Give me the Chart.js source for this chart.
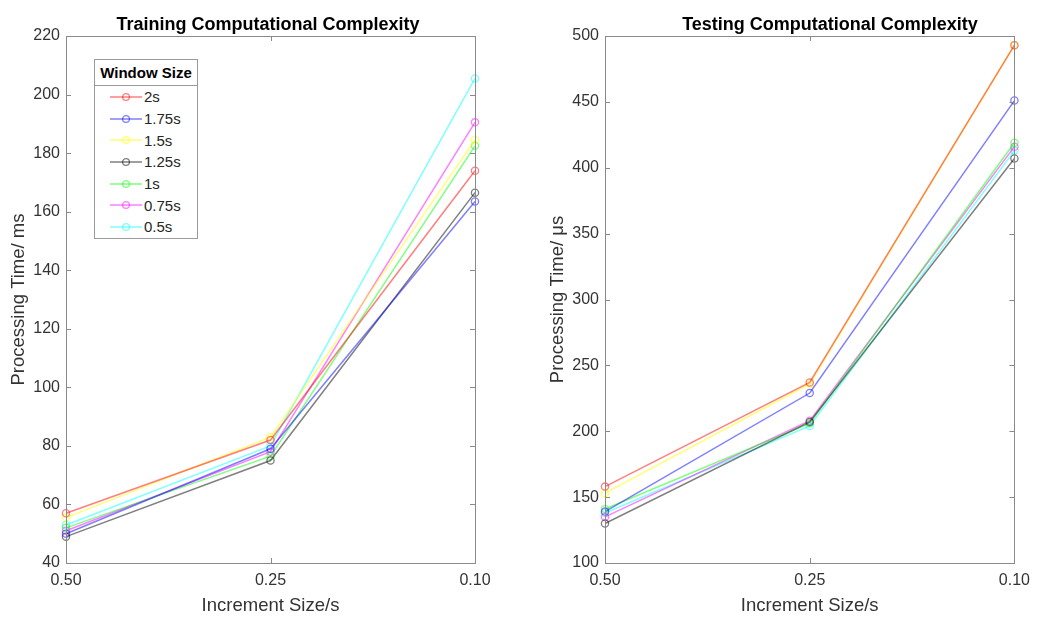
<!DOCTYPE html>
<html>
<head>
<meta charset="utf-8">
<script src="https://cdn.jsdelivr.net/npm/chart.js@4.4.0/dist/chart.umd.min.js"></script>
<style>
  body { margin: 0; background: #fff; width: 1038px; height: 618px; position: relative; overflow: hidden;
         font-family: "Liberation Sans", Arial, sans-serif; }
  .panel { position: absolute; top: 0; width: 519px; height: 618px; }
  #legend { position: absolute; left: 94px; top: 59px; width: 102px; border: 1px solid #9a9a9a; background: #fff; }
  #legend .head { font-weight: bold; font-size: 15px; color: #000; height: 25px; line-height: 25px;
                  text-align: center; border-bottom: 1px solid #9a9a9a; }
  #legend .row { height: 21.7px; display: flex; align-items: center; font-size: 15px; color: #262626; }
  #legend .row:first-of-type { margin-top: 2px; }
  #legend svg { margin-left: 15px; margin-right: 2px; }
</style>
</head>
<body>
<div class="panel" style="left:0"><canvas id="trainChart" width="519" height="618"></canvas></div>
<div class="panel" style="left:519px"><canvas id="testChart" width="519" height="618"></canvas></div>
<div id="legend"><div class="head">Window Size</div></div>

<script>
// x categories
const increments = ['0.50', '0.25', '0.10'];
// series names
const windowSizes = ['2s', '1.75s', '1.5s', '1.25s', '1s', '0.75s', '0.5s'];

// training time (ms), one array per window size
const train2s   = [57, 82, 174];
const train175s = [50, 79, 163.5];
const train15s  = [55.5, 83, 184.5];
const train125s = [49, 75, 166.5];
const train1s   = [52, 76.5, 182.5];
const train075s = [51, 78, 190.5];
const train05s  = [53, 80, 205.5];

// testing time (us)
const test2s   = [158, 237, 493];
const test175s = [139, 229, 451];
const test15s  = [153, 236, 493];
const test125s = [130, 207, 407];
const test1s   = [141, 206, 419];
const test075s = [135, 208, 416];
const test05s  = [138, 204, 413];

const trainSeries = [train2s, train175s, train15s, train125s, train1s, train075s, train05s];
const testSeries  = [test2s, test175s, test15s, test125s, test1s, test075s, test05s];

const lineColors = [
  'rgba(255,0,0,0.5)',
  'rgba(0,0,255,0.5)',
  'rgba(255,255,0,0.55)',
  'rgba(0,0,0,0.5)',
  'rgba(0,255,0,0.5)',
  'rgba(255,0,255,0.5)',
  'rgba(0,255,255,0.5)'
];

const axisColor = '#8a8a8a';
const textColor = '#333333';
const fontFamily = '"Liberation Sans", Arial, sans-serif';

// box round the plot, ticks pointing inward on all four sides, plus title
const matlabBox = {
  id: 'matlabBox',
  afterDraw(chart, args, opts) {
    const ctx = chart.ctx;
    const a = chart.chartArea;
    const len = 5;
    ctx.save();
    ctx.strokeStyle = axisColor;
    ctx.lineWidth = 1;
    ctx.strokeRect(Math.round(a.left) + 0.5, Math.round(a.top) + 0.5,
                   Math.round(a.right - a.left), Math.round(a.bottom - a.top));
    ctx.beginPath();
    const x = chart.scales.x, y = chart.scales.y;
    x.ticks.forEach((t, i) => {
      const px = Math.round(x.getPixelForTick(i)) + 0.5;
      ctx.moveTo(px, a.bottom); ctx.lineTo(px, a.bottom - len);
      ctx.moveTo(px, a.top); ctx.lineTo(px, a.top + len);
    });
    y.ticks.forEach((t, i) => {
      const py = Math.round(y.getPixelForTick(i)) + 0.5;
      ctx.moveTo(a.left, py); ctx.lineTo(a.left + len, py);
      ctx.moveTo(a.right, py); ctx.lineTo(a.right - len, py);
    });
    ctx.stroke();

    ctx.fillStyle = '#000';
    ctx.font = 'bold 18px ' + fontFamily;
    ctx.textAlign = 'center';
    ctx.textBaseline = 'alphabetic';
    ctx.fillText(opts.text, opts.cx, 30);
    ctx.restore();
  }
};

function makeChart(id, title, titleX, series, yMin, yMax, step, yTitle, rightPad, yTitlePad) {
  return new Chart(document.getElementById(id), {
    type: 'line',
    data: {
      labels: increments,
      datasets: windowSizes.map((w, i) => ({
        label: w,
        data: series[i],
        borderColor: lineColors[i],
        backgroundColor: 'rgba(0,0,0,0)',
        borderWidth: 1.5,
        pointRadius: 3.6,
        pointBorderWidth: 1.3,
        pointBackgroundColor: 'rgba(0,0,0,0)',
        pointBorderColor: lineColors[i],
        tension: 0,
        clip: false
      }))
    },
    options: {
      responsive: false,
      animation: false,
      layout: { padding: { top: 36, right: rightPad, left: 0, bottom: 0 } },
      plugins: {
        legend: { display: false },
        tooltip: { enabled: false },
        matlabBox: { text: title, cx: titleX }
      },
      scales: {
        x: {
          offset: false,
          grid: { display: false, drawTicks: false },
          border: { display: false },
          ticks: { color: textColor, font: { size: 16, family: fontFamily }, padding: 8, maxRotation: 0, autoSkip: false },
          title: { display: true, text: 'Increment Size/s', color: textColor,
                   font: { size: 18.5, family: fontFamily }, padding: { top: 0, bottom: 1 } },
          afterFit: s => { s.height = 55; }
        },
        y: {
          min: yMin, max: yMax,
          grid: { display: false, drawTicks: false },
          border: { display: false },
          ticks: { stepSize: step, color: textColor, font: { size: 16, family: fontFamily }, padding: 6 },
          title: { display: true, text: yTitle, color: textColor,
                   font: { size: 18.5, family: fontFamily }, padding: { top: yTitlePad, bottom: 0 } },
          afterFit: s => { s.width = 66 + (id === 'testChart' ? 20 : 0); }
        }
      }
    },
    plugins: [matlabBox]
  });
}

makeChart('trainChart', 'Training Computational Complexity', 268, trainSeries, 40, 220, 20,
          'Processing Time/ ms', 44, 8);
makeChart('testChart', 'Testing Computational Complexity', 311, testSeries, 100, 500, 50,
          'Processing Time/ \u03bcs', 23, 28);

// legend box
const legend = document.getElementById('legend');
windowSizes.forEach((w, i) => {
  const row = document.createElement('div');
  row.className = 'row';
  row.innerHTML = '<svg width="32" height="10"><line x1="0" y1="5" x2="32" y2="5" stroke="' + lineColors[i] +
    '" stroke-width="1.5"/><circle cx="16" cy="5" r="3.4" fill="none" stroke="' + lineColors[i] +
    '" stroke-width="1.3"/></svg><span>' + w + '</span>';
  legend.appendChild(row);
});
</script>
</body>
</html>
